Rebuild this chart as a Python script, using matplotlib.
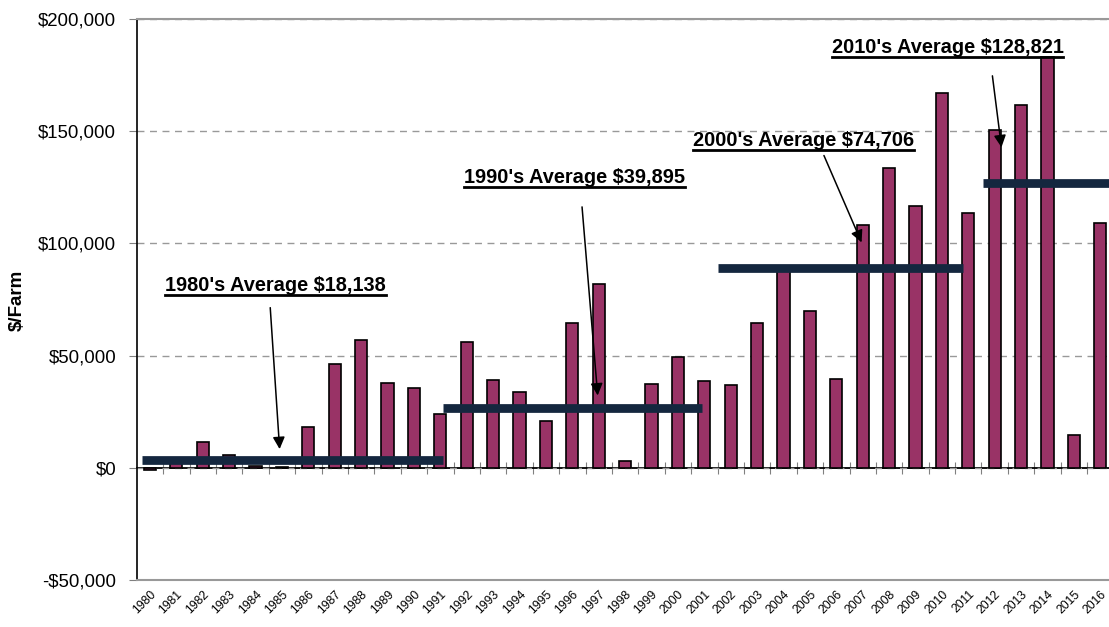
import numpy as np
import matplotlib
matplotlib.use("Agg")
from matplotlib import pyplot as plt
from matplotlib.lines import Line2D
from matplotlib.ticker import FuncFormatter

years = list(range(1980, 2017))
income = [-1000, 3500, 11600, 5800, 700, 400, 18300, 46300, 57000, 37900,
          35600, 24000, 56100, 39200, 33800, 20900, 64600, 81900, 3100, 37400,
          49400, 38700, 37000, 64600, 87500, 69900, 39600, 108200, 133600, 116700,
          167000, 113600, 150500, 161700, 183000, 14700, 109100]

# decade average bars as drawn on the chart
avg_level = [3600, 26500, 88900, 126700]
avg_from = [1979.7, 1991.1, 2001.5, 2011.55]
avg_to = [1991.1, 2000.9, 2010.8, 2016.6]

labels = ["1980's Average $18,138", "1990's Average $39,895",
          "2000's Average $74,706", "2010's Average $128,821"]
label_x = [1984.77, 1996.10, 2004.77, 2010.21]
label_y = [78800, 126900, 143400, 184800]
arrow_from = [(1984.55, 72600), (1996.36, 117500), (2005.49, 140300), (2011.9, 175900)]
arrow_to = [(1984.92, 7100), (1996.97, 31000), (2007.0, 99300), (2012.27, 141600)]

plt.rcParams['font.family'] = ['Liberation Sans', 'DejaVu Sans']

fig = plt.figure(figsize=(11.09, 6.27), dpi=100)
ax = fig.add_axes([137 / 1109, 1 - 580 / 627, 1 - 137 / 1109, (580 - 19) / 627])

x = np.array(years) - 1980
ax.bar(x, income, width=0.46, color="#993366", edgecolor="black", linewidth=1.2, zorder=3)

for lvl, a, b in zip(avg_level, avg_from, avg_to):
    ax.plot([a - 1980, b - 1980], [lvl, lvl], color="#14273f", linewidth=6.3, solid_capstyle="butt", zorder=4)

ax.set_xlim(-0.49, 36.33)
ax.set_ylim(-50000, 200000)
ax.set_yticks(range(-50000, 200001, 50000))
ax.yaxis.set_major_formatter(FuncFormatter(lambda v, p: ("-$" if v < 0 else "$") + f"{abs(v):,.0f}"))
ax.tick_params(axis="y", labelsize=13.4, length=6, color="gray", pad=9)
ax.yaxis.grid(True, linestyle=(0, (5, 4)), color="#999999", linewidth=1, zorder=0)
ax.set_axisbelow(True)

ax.set_xticks(x, years)
ax.tick_params(axis="x", length=0, labelsize=8.7, pad=6)
for t in ax.get_xticklabels():
    t.set_rotation(45)
    t.set_ha("right")
    t.set_rotation_mode("anchor")

ax.spines["left"].set_color("black")
ax.spines["left"].set_linewidth(1.2)
ax.spines["bottom"].set_color("#999999")
ax.spines["bottom"].set_linewidth(1.5)
ax.spines["top"].set_color("#999999")
ax.spines["top"].set_linewidth(1.5)
ax.spines["right"].set_visible(False)

# category axis crossing at zero
ylo, yhi = ax.get_ylim()
sec = ax.secondary_xaxis((0 - ylo) / (yhi - ylo))
sec.set_xticks(np.arange(-0.5, 37, 1.0))
sec.tick_params(axis="x", direction="inout", length=8, color="gray", labelbottom=False)
sec.spines["bottom"].set_color("black")
sec.spines["bottom"].set_linewidth(1.3)

fig.text(17 / 1109, 1 - 300 / 627, "$/Farm", rotation=90, ha="center", va="center",
         fontsize=13.5, fontweight="bold")

texts = []
for s, lx, ly, a0, a1 in zip(labels, label_x, label_y, arrow_from, arrow_to):
    texts.append(ax.text(lx - 1980, ly, s, ha="center", va="baseline", fontsize=14.4,
                         fontweight="bold", zorder=6))
    ax.annotate("", xy=(a1[0] - 1980, a1[1]), xytext=(a0[0] - 1980, a0[1]),
                arrowprops=dict(arrowstyle="-|>", color="black", lw=1.1, mutation_scale=18),
                zorder=6)

# underline the labels
fig.canvas.draw()
r = fig.canvas.get_renderer()
for t in texts:
    bb = t.get_window_extent(r).transformed(fig.transFigure.inverted())
    fig.add_artist(Line2D([bb.x0, bb.x1], [bb.y0, bb.y0], color="black", linewidth=2,
                          transform=fig.transFigure))

fig.savefig("out.png", dpi=100)
